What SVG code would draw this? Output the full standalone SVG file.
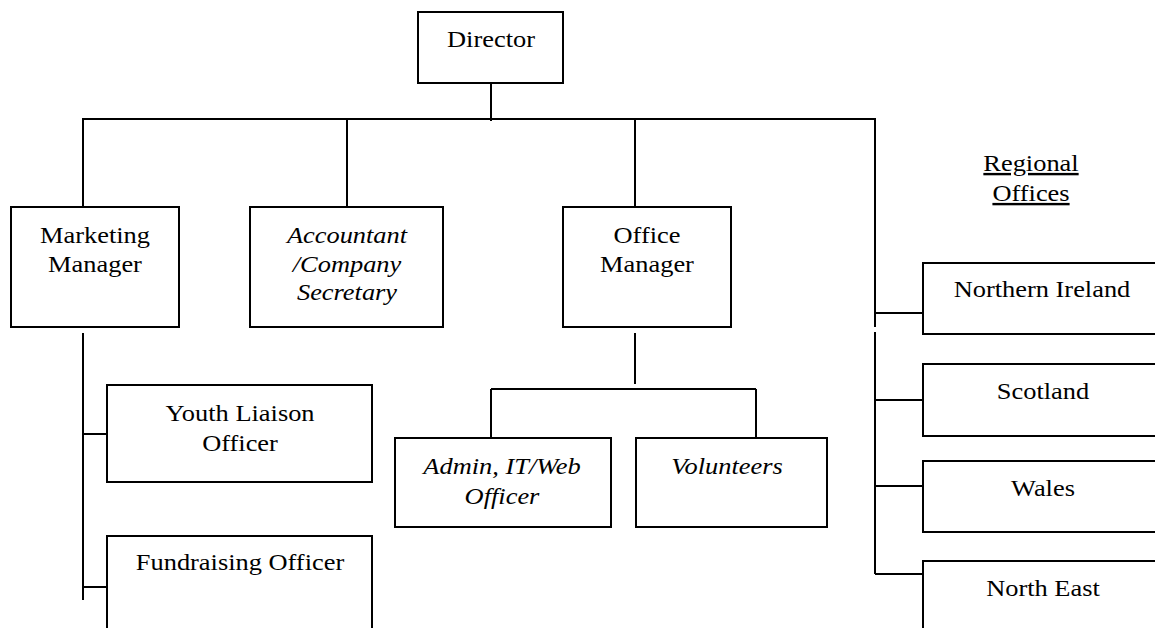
<svg xmlns="http://www.w3.org/2000/svg" width="1155" height="628" viewBox="0 0 1155 628">
<style>
.box{fill:#fff;stroke:#000;stroke-width:2}
.ln{stroke:#000;stroke-width:2;fill:none}
text{font-family:"Liberation Serif","Times New Roman",serif;font-size:24px;fill:#000;text-anchor:middle}
.it{font-style:italic}
.u{text-decoration:underline}
</style>
<rect width="1155" height="628" fill="#fff"/>
<g id="connectors">
<path class="ln" d="M491,83V121M82,119H876M83,119V207M347,119V207M635,119V207M875,119V327M875,332V574M875,313H923M875,400H923M875,486H923M875,574H923M83,333V600M83,434H107M83,587H107M635,333V384M491,389H756M491,389V438M756,389V438"/>
</g>
<g id="director"><rect class="box" x="418" y="12" width="145" height="71"/><text transform="translate(491,47) scale(1.1,1)">Director</text></g>
<g id="marketing"><rect class="box" x="11" y="207" width="168" height="120"/><text transform="translate(95,243) scale(1.1,1)"><tspan x="0" y="0">Marketing</tspan><tspan x="0" y="29">Manager</tspan></text></g>
<g id="accountant"><rect class="box" x="250" y="207" width="193" height="120"/><text class="it" transform="translate(347,243) scale(1.1,1)"><tspan x="0" y="0">Accountant</tspan><tspan x="0" y="29">/Company</tspan><tspan x="0" y="57">Secretary</tspan></text></g>
<g id="office"><rect class="box" x="563" y="207" width="168" height="120"/><text transform="translate(647,243) scale(1.1,1)"><tspan x="0" y="0">Office</tspan><tspan x="0" y="29">Manager</tspan></text></g>
<g id="regional-label"><text class="u" transform="translate(1031,171) scale(1.1,1)"><tspan x="0" y="0">Regional</tspan><tspan x="0" y="30">Offices</tspan></text></g>
<g id="northern-ireland"><rect class="box" x="923" y="263" width="240" height="71"/><text transform="translate(1042,297) scale(1.1,1)">Northern Ireland</text></g>
<g id="scotland"><rect class="box" x="923" y="364" width="240" height="72"/><text transform="translate(1043,399) scale(1.1,1)">Scotland</text></g>
<g id="wales"><rect class="box" x="923" y="461" width="240" height="71"/><text transform="translate(1043,496) scale(1.1,1)">Wales</text></g>
<g id="north-east"><rect class="box" x="923" y="561" width="240" height="80"/><text transform="translate(1043,596) scale(1.1,1)">North East</text></g>
<g id="youth"><rect class="box" x="107" y="385" width="265" height="97"/><text transform="translate(240,421) scale(1.1,1)"><tspan x="0" y="0">Youth Liaison</tspan><tspan x="0" y="30">Officer</tspan></text></g>
<g id="fundraising"><rect class="box" x="107" y="536" width="265" height="100"/><text transform="translate(240,570) scale(1.1,1)">Fundraising Officer</text></g>
<g id="admin"><rect class="box" x="395" y="438" width="216" height="89"/><text class="it" transform="translate(502,474) scale(1.1,1)"><tspan x="0" y="0">Admin, IT/Web</tspan><tspan x="0" y="30">Officer</tspan></text></g>
<g id="volunteers"><rect class="box" x="636" y="438" width="191" height="89"/><text class="it" transform="translate(727,474) scale(1.1,1)">Volunteers</text></g>
</svg>
